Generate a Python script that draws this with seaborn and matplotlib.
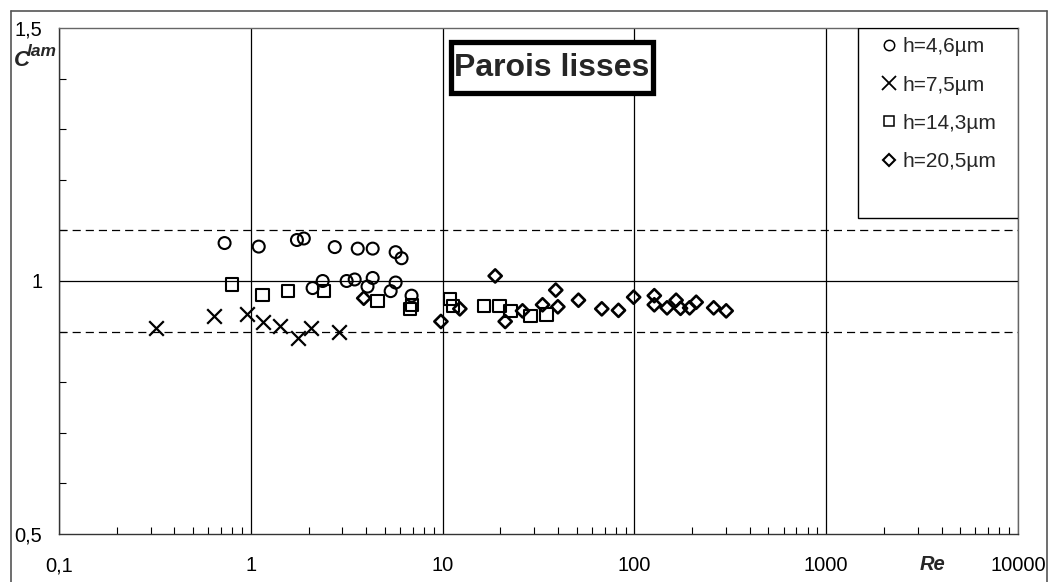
import numpy as np
import pandas as pd
import matplotlib
matplotlib.use("Agg")
import matplotlib.pyplot as plt
from matplotlib.ticker import FixedLocator, MultipleLocator, LogLocator, NullFormatter, FixedFormatter
from matplotlib.lines import Line2D
from matplotlib.patches import Rectangle
import seaborn as sns

# ---------------- data ----------------
re_h46 = [0.73, 1.10, 1.74, 1.89, 2.74, 3.61, 4.32, 5.69, 6.11,
          2.10, 2.37, 3.16, 3.48, 4.06, 4.32, 5.36, 5.69, 6.89]
c_h46 = [1.075, 1.068, 1.081, 1.084, 1.067, 1.064, 1.064, 1.057, 1.045,
         0.986, 1.000, 1.000, 1.003, 0.989, 1.006, 0.980, 0.997, 0.971]

re_h75 = [0.32, 0.64, 0.96, 1.16, 1.42, 1.76, 2.07, 2.87]
c_h75 = [0.907, 0.931, 0.935, 0.918, 0.912, 0.887, 0.907, 0.899]

re_h143 = [0.80, 1.15, 1.56, 2.40, 4.58, 6.73, 6.90, 10.9, 11.3, 16.5,
           19.8, 22.6, 28.7, 34.8]
c_h143 = [0.993, 0.972, 0.980, 0.980, 0.960, 0.945, 0.953, 0.964, 0.951,
          0.950, 0.950, 0.941, 0.931, 0.934]

re_h205 = [3.88, 9.8, 12.3, 18.8, 21.2, 26.1, 33.2, 38.9, 39.9, 51.1, 67.6,
           82.6, 99.1, 127, 127, 148, 165, 174, 194, 210, 259, 301]
c_h205 = [0.966, 0.920, 0.945, 1.010, 0.920, 0.941, 0.953, 0.982, 0.949,
          0.962, 0.945, 0.942, 0.968, 0.971, 0.953, 0.947, 0.962, 0.946,
          0.947, 0.958, 0.947, 0.941]

series_labels = ["h=4,6µm", "h=7,5µm", "h=14,3µm", "h=20,5µm"]
x_tick_values = [0.1, 1, 10, 100, 1000, 10000]
x_tick_labels = ["0,1", "1", "10", "100", "1000", "10000"]
y_tick_values = [0.5, 1.0, 1.5]
y_tick_labels = ["0,5", "1", "1,5"]
ref_lines = [0.9, 1.1]
title_text = "Parois lisses"

# ---------------- style ----------------
sns.set_style("white")
plt.rcParams["font.family"] = ["Liberation Sans", "DejaVu Sans"]

W, H = 1051, 582
fig = plt.figure(figsize=(W / 100, H / 100), dpi=100)
L, R, T, B = 59, 1018, 28, 534
ax = fig.add_axes([L / W, 1 - B / H, (R - L) / W, (B - T) / H])

ax.set_xscale("log")
ax.set_xlim(0.1, 10000)
ax.set_ylim(0.5, 1.5)

# reference lines
ax.axhline(1.0, color="black", lw=0.9, zorder=1)
for v in ref_lines:
    ax.axhline(v, color="black", lw=0.9, dashes=(6.5, 4), zorder=1)

# vertical major grid lines
ax.xaxis.set_major_locator(FixedLocator(x_tick_values))
ax.xaxis.set_major_formatter(FixedFormatter(x_tick_labels))
ax.xaxis.set_minor_locator(LogLocator(base=10, subs=np.arange(2, 10)))
ax.xaxis.set_minor_formatter(NullFormatter())
ax.grid(which="major", axis="x", color="black", lw=0.9)
ax.grid(which="major", axis="y", visible=False)
ax.set_axisbelow(True)

ax.yaxis.set_major_locator(FixedLocator(y_tick_values))
ax.yaxis.set_major_formatter(FixedFormatter(y_tick_labels))
ax.yaxis.set_minor_locator(MultipleLocator(0.1))

ax.tick_params(which="both", direction="in", colors="black", labelsize=14.5)
ax.tick_params(axis="x", which="major", length=0, pad=16)
ax.tick_params(axis="x", which="minor", length=5, width=0.8, bottom=True)
ax.tick_params(axis="y", which="major", length=0, pad=12)
ax.tick_params(axis="y", which="minor", length=5, width=0.8, left=True)

for side, sp in ax.spines.items():
    sp.set_visible(True)
    sp.set_linewidth(1.0)
    sp.set_color("#333333" if side in ("left", "bottom") else "#666666")

# ---------------- data markers ----------------
sns.scatterplot(x=re_h46, y=c_h46, marker="o", s=8.6 ** 2, facecolors="none",
                edgecolor="black", linewidth=1.5, ax=ax, legend=False, zorder=3)
sns.scatterplot(x=re_h75, y=c_h75, marker="x", s=10.5 ** 2, color="black",
                linewidth=1.6, ax=ax, legend=False, zorder=3)
sns.scatterplot(x=re_h143, y=c_h143, marker="s", s=8.8 ** 2, facecolors="none",
                edgecolor="black", linewidth=1.5, ax=ax, legend=False, zorder=3)
sns.scatterplot(x=re_h205, y=c_h205, marker="D", s=6.7 ** 2, facecolors="none",
                edgecolor="black", linewidth=1.9, ax=ax, legend=False, zorder=3)

ax.set_xlabel("")
ax.set_ylabel("")

# ---------------- legend ----------------
bx0 = (858 - L) / (R - L)
by0 = (B - 218) / (B - T)
ax.add_patch(Rectangle((bx0, by0), 1 - bx0, 1 - by0, transform=ax.transAxes,
                       facecolor="white", edgecolor="black", lw=1.0, zorder=5))
handles = [
    Line2D([], [], ls="none", marker="o", ms=7.5, mfc="none", mec="black", mew=1.1),
    Line2D([], [], ls="none", marker="x", ms=10, color="black", mew=1.3),
    Line2D([], [], ls="none", marker="s", ms=7.5, mfc="none", mec="black", mew=1.1),
    Line2D([], [], ls="none", marker="D", ms=6, mfc="none", mec="black", mew=1.5),
]
leg = ax.legend(handles, series_labels, loc="upper left",
                bbox_to_anchor=(bx0 + 0.014, 1.0), frameon=False, fontsize=15,
                handlelength=0.8, handletextpad=0.25, labelspacing=0.92,
                borderaxespad=0.2, borderpad=0.25)
leg.set_zorder(6)

# ---------------- title box ----------------
fig.patches.append(Rectangle((450.5 / W, 1 - 92.5 / H), 202 / W, 50 / H,
                             transform=fig.transFigure, facecolor="white",
                             edgecolor="black", lw=3.8, zorder=7))
fig.text(551.5 / W, 1 - 67.5 / H, title_text, ha="center", va="center",
         fontsize=23, fontweight="bold", zorder=8)

# ---------------- axis labels ----------------
fig.text(933 / W, 1 - 565 / H, "Re", ha="center", va="center", fontsize=14.5,
         fontweight="bold", fontstyle="italic")
fig.text(14 / W, 1 - 66 / H, "C", ha="left", va="baseline", fontsize=16,
         fontweight="bold", fontstyle="italic")
fig.text(27 / W, 1 - 56 / H, "lam", ha="left", va="baseline", fontsize=12.5,
         fontweight="bold", fontstyle="italic")

# ---------------- outer frame ----------------
frame_col = "#555555"
fig.lines.append(Line2D([10.5 / W, 10.5 / W], [0, 1 - 10.5 / H],
                        transform=fig.transFigure, color=frame_col, lw=1.2))
fig.lines.append(Line2D([10.5 / W, 1047 / W], [1 - 10.5 / H, 1 - 10.5 / H],
                        transform=fig.transFigure, color=frame_col, lw=1.2))
fig.lines.append(Line2D([1047 / W, 1047 / W], [0, 1 - 10.5 / H],
                        transform=fig.transFigure, color=frame_col, lw=1.2))

fig.savefig("out.png", dpi=100, facecolor="white")
